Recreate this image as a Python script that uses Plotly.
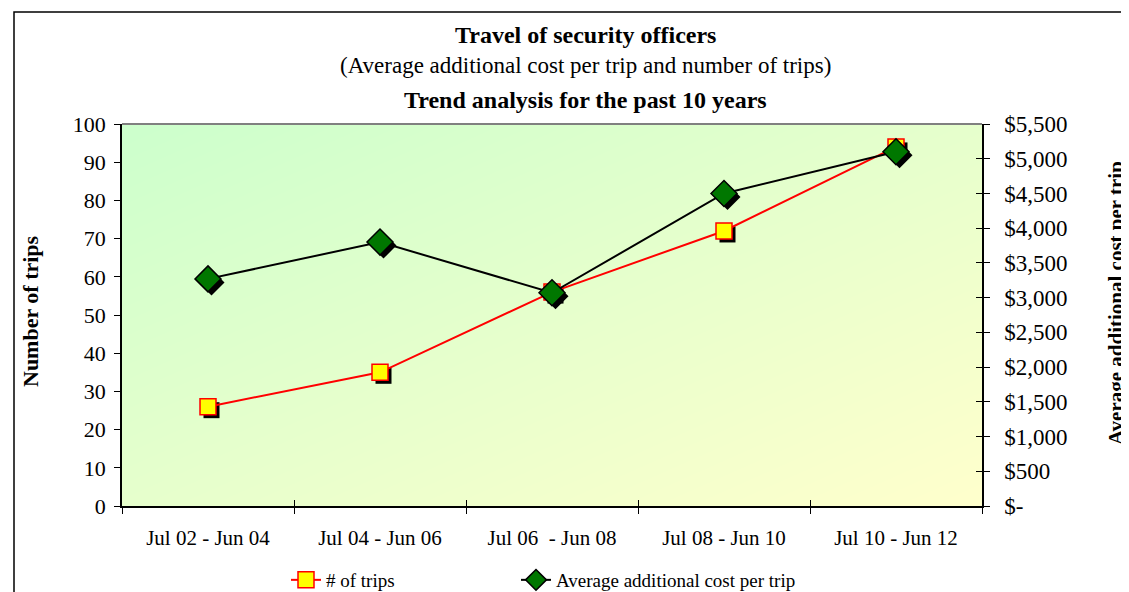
import plotly.graph_objects as go

periods = ["Jul 02 - Jun 04", "Jul 04 - Jun 06", "Jul 06  - Jun 08", "Jul 08 - Jun 10", "Jul 10 - Jun 12"]
trips = [26, 35, 56, 72, 94]
avg_cost = [3270, 3800, 3070, 4500, 5100]

cost_ticks = [0, 500, 1000, 1500, 2000, 2500, 3000, 3500, 4000, 4500, 5000, 5500]
cost_labels = ["$-"] + ["${:,}".format(v) for v in cost_ticks[1:]]

FONT = "Liberation Serif, Times New Roman, serif"

# page has an 8px body margin, so work in page pixels and subtract it
OFF = 8
W, H = 1129 - OFF, 592 - OFF
L, R, T, B = 122 - OFF, 982 - OFF, 124 - OFF, 506 - OFF
pw, ph = R - L, B - T

def px(pix):
    return (pix - OFF - L) / pw

def py(pix):
    return (B - (pix - OFF)) / ph

# shadow offset (px) for the marker shadows
sh = 3.5
dx = sh * 5 / pw
dy_trips = sh * 100 / ph
dy_cost = sh * 5500 / ph

xr = [-0.5, 4.5]

fig = go.Figure()

# gradient background of plot area
fig.add_trace(go.Heatmap(
    z=[[0.5, 1.0], [0.0, 0.5]], x=[0, 1], y=[0, 1],
    colorscale=[[0, "#ccffcc"], [0.5, "#e6ffcc"], [1, "#ffffcc"]],
    zsmooth="best", showscale=False, hoverinfo="skip",
    xaxis="x", yaxis="y"))

# trips shadow
fig.add_trace(go.Scatter(
    x=periods, y=trips, mode="markers", showlegend=False, hoverinfo="skip",
    marker=dict(symbol="square", size=16, color="black", line=dict(width=0)),
    xaxis="x2", yaxis="y2"))

# trips
fig.add_trace(go.Scatter(
    x=periods, y=trips, mode="lines+markers", name="# of trips", legend="legend",
    line=dict(color="#ff0000", width=2),
    marker=dict(symbol="square", size=16, color="#ffff00", line=dict(color="#ff0000", width=1.5)),
    xaxis="x3", yaxis="y3"))

# cost shadow
fig.add_trace(go.Scatter(
    x=periods, y=avg_cost, mode="markers", showlegend=False, hoverinfo="skip",
    marker=dict(symbol="diamond", size=20, color="black", line=dict(width=0)),
    xaxis="x4", yaxis="y4"))

# cost
fig.add_trace(go.Scatter(
    x=periods, y=avg_cost, mode="lines+markers", name="Average additional cost per trip", legend="legend2",
    line=dict(color="black", width=2),
    marker=dict(symbol="diamond", size=20, color="#007700", line=dict(color="black", width=1.5)),
    xaxis="x5", yaxis="y5"))

hidden = dict(visible=False, fixedrange=True)
leg = dict(orientation="h", xref="container", yref="container", xanchor="left",
           y=1 - (580 - OFF) / H, yanchor="middle",
           font=dict(family=FONT, size=19), bgcolor="rgba(0,0,0,0)")

fig.update_layout(
    width=W, height=H,
    margin=dict(l=L, r=W - R, t=T, b=H - B, autoexpand=False),
    paper_bgcolor="white", plot_bgcolor="rgba(0,0,0,0)",
    font=dict(family=FONT, size=18, color="black"),
    showlegend=True,
    legend=dict(leg, x=(286 - OFF) / W),
    legend2=dict(leg, x=(516 - OFF) / W),
    # background axes: only used for the inner half of the crossing tick marks
    xaxis=dict(range=[0, 1], tickvals=[i / 5 for i in range(6)], ticks="inside", ticklen=6,
               tickcolor="black", showticklabels=False, showgrid=False, zeroline=False,
               showline=False, fixedrange=True),
    yaxis=dict(range=[0, 1], tickvals=[i / 11 for i in range(12)], ticks="inside", ticklen=6,
               tickcolor="black", showticklabels=False, showgrid=False, zeroline=False,
               showline=False, side="right", fixedrange=True),
    xaxis2=dict(hidden, type="category", categoryarray=periods, range=[xr[0] - dx, xr[1] - dx],
                overlaying="x"),
    yaxis2=dict(hidden, range=[0 + dy_trips, 100 + dy_trips], overlaying="y"),
    xaxis3=dict(type="category", categoryarray=periods, range=xr, overlaying="x",
                showline=True, linecolor="black", linewidth=1.5,
                ticks="outside", ticklen=6, tickcolor="black", tickson="boundaries",
                ticklabelstandoff=12,
                tickfont=dict(family=FONT, size=21), showgrid=False, zeroline=False,
                automargin=False, fixedrange=True),
    yaxis3=dict(range=[0, 100], dtick=10, overlaying="y", side="left",
                showline=True, linecolor="black", linewidth=1.5,
                ticks="outside", ticklen=6, tickcolor="black", ticklabelstandoff=4,
                tickfont=dict(family=FONT, size=22), showgrid=False, zeroline=False,
                automargin=False, fixedrange=True),
    xaxis4=dict(hidden, type="category", categoryarray=periods, range=[xr[0] - dx, xr[1] - dx],
                overlaying="x"),
    yaxis4=dict(hidden, range=[0 + dy_cost, 5500 + dy_cost], overlaying="y"),
    xaxis5=dict(hidden, type="category", categoryarray=periods, range=xr, overlaying="x"),
    yaxis5=dict(range=[0, 5500], tickvals=cost_ticks, ticktext=cost_labels, overlaying="y", side="right",
                showline=True, linecolor="black", linewidth=1.5,
                ticks="outside", ticklen=6, tickcolor="black", ticklabelstandoff=10,
                tickfont=dict(family=FONT, size=23), showgrid=False, zeroline=False,
                automargin=False, fixedrange=True),
)

# titles
tx = px(585)
ann = dict(xref="paper", yref="paper", showarrow=False, xanchor="center", yanchor="middle")
fig.add_annotation(ann, text="<b>Travel of security officers</b>",
                   x=tx, y=py(35), font=dict(family=FONT, size=24))
fig.add_annotation(ann, text="(Average additional cost per trip and number of trips)",
                   x=tx, y=py(66), font=dict(family=FONT, size=23))
fig.add_annotation(ann, text="<b>Trend analysis for the past 10 years</b>",
                   x=tx, y=py(100), font=dict(family=FONT, size=24))
# axis titles
fig.add_annotation(ann, text="<b>Number of trips</b>",
                   x=px(30), y=py(311), textangle=-90, font=dict(family=FONT, size=22))
fig.add_annotation(ann, text="<b>Average additional cost per trip</b>",
                   x=px(1116), y=py(303), textangle=-90, font=dict(family=FONT, size=21))

# top edge of plot area (grey) and outer chart border
fig.add_shape(type="line", xref="paper", yref="paper", x0=0, x1=1, y0=1, y1=1,
              line=dict(color="#808080", width=2))
fig.add_shape(type="rect", xref="paper", yref="paper",
              x0=px(14), x1=px(1160), y0=py(620), y1=py(12),
              line=dict(color="black", width=1.5), fillcolor="rgba(0,0,0,0)", layer="below")

fig.write_html("out.html")
